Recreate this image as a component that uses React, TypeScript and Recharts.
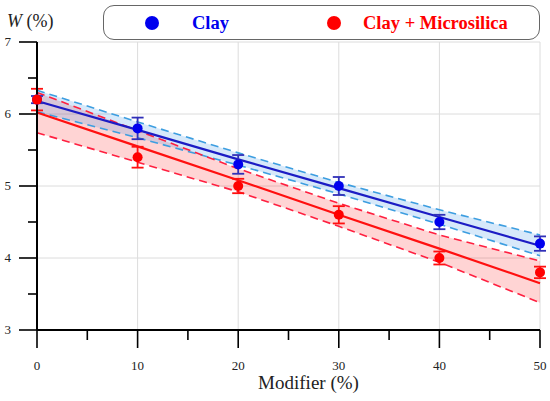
import React from "react";
import {
  ComposedChart,
  Area,
  Line,
  Scatter,
  ErrorBar,
  XAxis,
  YAxis,
  CartesianGrid,
  Legend,
  Label,
} from "recharts";

// modifier content, %
const modifier = [0, 10, 20, 30, 40, 50];

// measured water absorption W, %
const clay = [6.2, 5.8, 5.3, 5.0, 4.5, 4.2];
const clayErr = [0.05, 0.15, 0.13, 0.125, 0.1, 0.1];
const mix = [6.2, 5.4, 5.0, 4.6, 4.0, 3.8];
const mixErr = [0.15, 0.145, 0.1, 0.12, 0.09, 0.08];

// linear fits and confidence bounds
const clayFit = [6.18, 5.78, 5.37, 4.97, 4.57, 4.17];
const clayUpper = [6.33, 5.89, 5.46, 5.05, 4.67, 4.32];
const clayLower = [6.03, 5.67, 5.29, 4.89, 4.47, 4.03];
const mixFit = [6.02, 5.55, 5.08, 4.6, 4.13, 3.65];
const mixUpper = [6.3, 5.77, 5.24, 4.76, 4.32, 3.96];
const mixLower = [5.74, 5.33, 4.92, 4.44, 3.94, 3.38];

const xTicks = [0, 5, 10, 15, 20, 25, 30, 35, 40, 45, 50];
const yTicks = [3, 3.5, 4, 4.5, 5, 5.5, 6, 6.5, 7];

const data = modifier.map((x, i) => ({
  x,
  clay: clay[i],
  clayErr: clayErr[i],
  mix: mix[i],
  mixErr: mixErr[i],
  clayFit: clayFit[i],
  clayUpper: clayUpper[i],
  clayLower: clayLower[i],
  clayBand: [clayLower[i], clayUpper[i]],
  mixFit: mixFit[i],
  mixUpper: mixUpper[i],
  mixLower: mixLower[i],
  mixBand: [mixLower[i], mixUpper[i]],
}));

const FONT = "Liberation Serif";

const YTick = (props: any) => {
  const { x, y, payload } = props;
  const major = Number.isInteger(payload.value);
  return (
    <g>
      <line x1={x} x2={x - (major ? 18 : 9)} y1={y} y2={y} stroke="#000" strokeWidth={1.6} />
      {major && (
        <text x={x - 26} y={y} dy={4} textAnchor="end" fontFamily={FONT} fontSize={13} fill="#222">
          {payload.value}
        </text>
      )}
    </g>
  );
};

const XTick = (props: any) => {
  const { x, y, payload } = props;
  const major = payload.value % 10 === 0;
  return (
    <g>
      <line x1={x} x2={x} y1={y} y2={y + (major ? 18 : 10)} stroke="#000" strokeWidth={1.6} />
      {major && (
        <text x={x} y={y + 40} textAnchor="middle" fontFamily={FONT} fontSize={13} fill="#222">
          {payload.value}
        </text>
      )}
    </g>
  );
};

const Dot = (color: string) => (p: any) => <circle cx={p.cx} cy={p.cy} r={5} fill={color} />;

const LegendBox = (props: any) => {
  const items = (props.payload || []).filter((e: any) => e.type !== "none");
  return (
    <div
      style={{
        boxSizing: "border-box",
        width: 437,
        height: 35,
        border: "1px solid #666",
        borderRadius: 11,
        background: "#fff",
        position: "relative",
      }}
    >
      {items.map((e: any, i: number) => (
        <div
          key={e.value}
          style={{
            position: "absolute",
            left: i === 0 ? 41 : 223,
            top: 5,
            display: "flex",
            alignItems: "center",
            color: e.color,
            fontFamily: FONT,
            fontWeight: 700,
            fontSize: 18.5,
            lineHeight: "24px",
          }}
        >
          <span
            style={{ width: 14, height: 14, borderRadius: 7, background: e.color, display: "inline-block" }}
          />
          <span style={{ marginLeft: i === 0 ? 33 : 22 }}>{e.value}</span>
        </div>
      ))}
    </div>
  );
};

export default function App() {
  return (
    <div style={{ position: "absolute", left: 0, top: 0, background: "#fff", fontFamily: FONT }}>
      <ComposedChart width={550} height={401} data={data} margin={{ top: 42, right: 10, bottom: 0, left: 0 }}>
        <CartesianGrid
          stroke="#dcdcdc"
          horizontalValues={[4, 5, 6, 7]}
          verticalValues={[10, 20, 30, 40, 50]}
        />
        <XAxis
          dataKey="x"
          type="number"
          domain={[0, 50]}
          ticks={xTicks}
          height={71}
          tickSize={0}
          tickMargin={0}
          tickLine={false}
          tick={<XTick />}
          axisLine={{ stroke: "#000", strokeWidth: 2 }}
        >
          <Label
            content={() => (
              <text x={308.5} y={389} textAnchor="middle" fontFamily={FONT} fontSize={19} fill="#222">
                Modifier (%)
              </text>
            )}
          />
        </XAxis>
        <YAxis
          type="number"
          domain={[3, 7]}
          ticks={yTicks}
          width={37}
          tickSize={0}
          tickMargin={0}
          tickLine={false}
          tick={<YTick />}
          axisLine={{ stroke: "#000", strokeWidth: 2 }}
        >
          <Label
            content={() => (
              <text x={7} y={27} fontFamily={FONT} fontSize={18} fill="#222">
                <tspan fontStyle="italic">W</tspan>
                <tspan> (%)</tspan>
              </text>
            )}
          />
        </YAxis>
        <Legend
          layout="horizontal"
          verticalAlign="middle"
          align="center"
          wrapperStyle={{ top: 5, left: 103, width: 437, height: 35 }}
          content={<LegendBox />}
        />
        <Area
          dataKey="mixBand"
          type="linear"
          fill="#ff2a2a"
          fillOpacity={0.2}
          stroke="none"
          legendType="none"
          isAnimationActive={false}
        />
        <Area
          dataKey="clayBand"
          type="linear"
          fill="#4a9be6"
          fillOpacity={0.22}
          stroke="none"
          legendType="none"
          isAnimationActive={false}
        />
        <Line dataKey="clayUpper" type="linear" stroke="#3d9ee0" strokeWidth={1.6} strokeDasharray="8 5" dot={false} legendType="none" isAnimationActive={false} />
        <Line dataKey="clayLower" type="linear" stroke="#3d9ee0" strokeWidth={1.6} strokeDasharray="8 5" dot={false} legendType="none" isAnimationActive={false} />
        <Line dataKey="mixUpper" type="linear" stroke="#ff2040" strokeWidth={1.6} strokeDasharray="8 5" dot={false} legendType="none" isAnimationActive={false} />
        <Line dataKey="mixLower" type="linear" stroke="#ff2040" strokeWidth={1.6} strokeDasharray="8 5" dot={false} legendType="none" isAnimationActive={false} />
        <Line dataKey="clayFit" type="linear" stroke="#1c1cc4" strokeWidth={2.2} dot={false} legendType="none" isAnimationActive={false} />
        <Line dataKey="mixFit" type="linear" stroke="#ff1010" strokeWidth={2.2} dot={false} legendType="none" isAnimationActive={false} />
        <Scatter name="Clay" dataKey="clay" fill="#0000ee" shape={Dot("#0000ee")} isAnimationActive={false}>
          <ErrorBar dataKey="clayErr" direction="y" width={6} stroke="#3030b8" strokeWidth={1.8} />
        </Scatter>
        <Scatter name="Clay + Microsilica" dataKey="mix" fill="#ff0000" shape={Dot("#ff0000")} isAnimationActive={false}>
          <ErrorBar dataKey="mixErr" direction="y" width={6} stroke="#ff1010" strokeWidth={1.8} />
        </Scatter>
      </ComposedChart>
    </div>
  );
}
